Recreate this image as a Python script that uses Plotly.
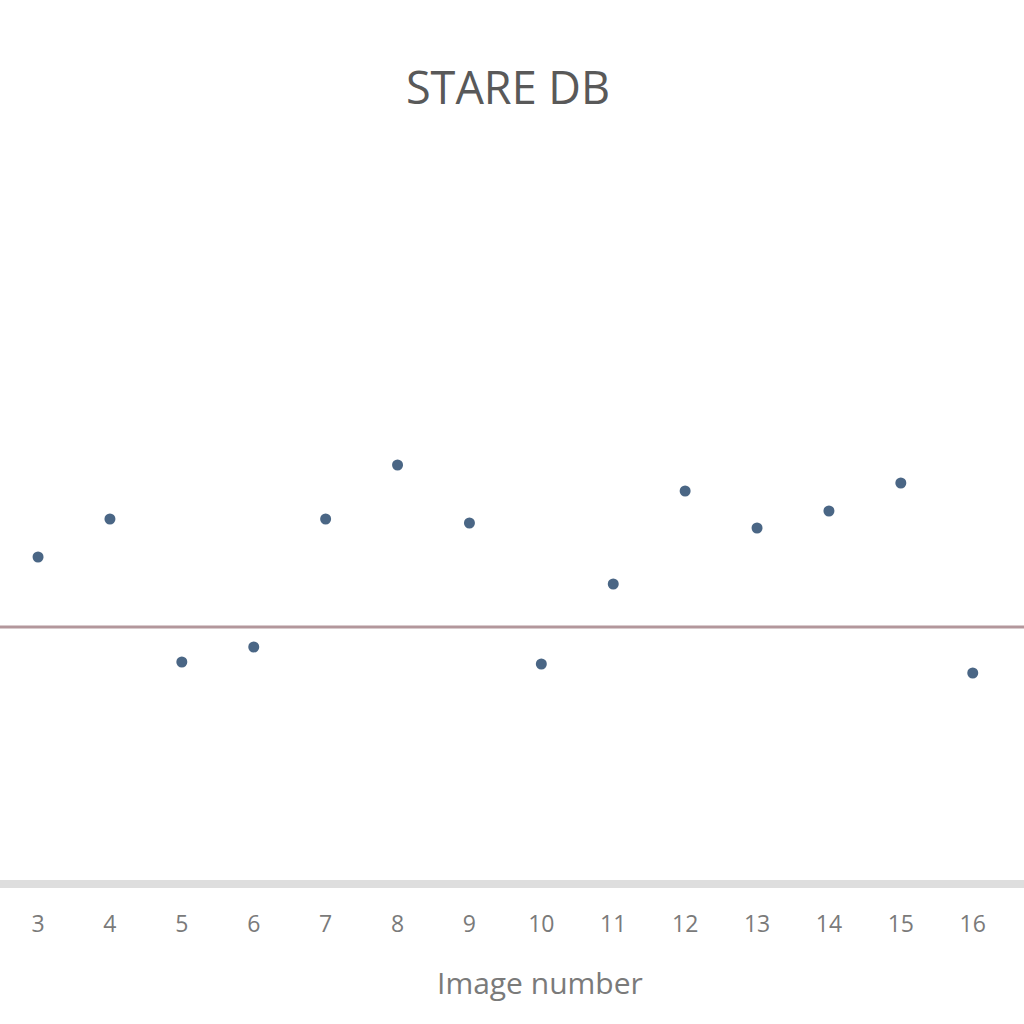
import plotly.graph_objects as go

image_numbers = [3, 4, 5, 6, 7, 8, 9, 10, 11, 12, 13, 14, 15, 16]
values = [32.3, 36.1, 21.8, 23.3, 36.1, 41.5, 35.7, 21.6, 29.6, 38.9, 35.2, 36.9, 39.7, 20.7]
reference_level = 25.3
title_text = "STARE DB"
x_title = "Image number"

fig = go.Figure()
fig.add_trace(go.Scatter(
    x=image_numbers, y=values, mode="markers",
    marker=dict(color="#4a6685", size=11, symbol="circle"),
    showlegend=False,
))
fig.add_hline(y=reference_level, line=dict(color="#b3979c", width=3))

fig.update_layout(
    width=1024, height=1024,
    margin=dict(l=0, r=0, t=147, b=144, autoexpand=False),
    paper_bgcolor="white", plot_bgcolor="white",
    font=dict(family="Open Sans", color="#7f7f7f"),
    title=dict(text=title_text, x=508/1024, xanchor="center", y=1-88/1024, yanchor="middle",
               font=dict(family="Open Sans", size=45, color="#595959")),
    xaxis=dict(range=[2.471, 16.713], tickvals=image_numbers, showgrid=False, zeroline=False,
               showline=True, linecolor="#dedede", linewidth=8, automargin=False,
               tickfont=dict(size=23, color="#7a7a7a"), ticklabelstandoff=16),
    yaxis=dict(range=[0, 73.3], visible=False, showgrid=False, zeroline=False, automargin=False),
    annotations=[dict(text=x_title, xref="paper", yref="paper", x=540/1024, y=(880-982)/733,
                      xanchor="center", yanchor="middle", showarrow=False,
                      font=dict(family="Open Sans", size=30, color="#7a7a7a"))],
)
fig.write_html("out.html", config={"displayModeBar": False},
               post_script="document.body.style.margin='0';")
